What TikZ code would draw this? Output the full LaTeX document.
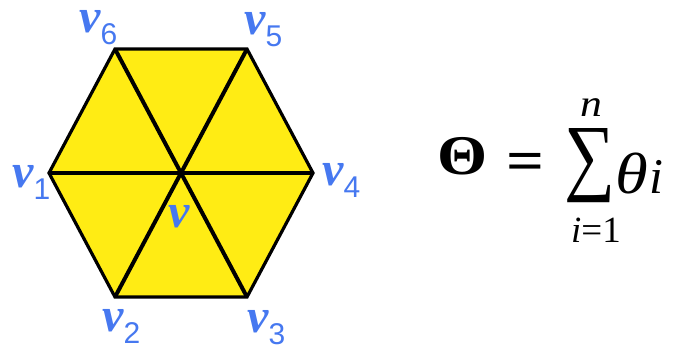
\documentclass[tikz,border=0pt]{standalone}
\usepackage{graphicx}
\usepackage{fontspec}
\setmainfont{Liberation Serif}
\newfontfamily\subfont{Liberation Sans}
\definecolor{vblue}{RGB}{70,120,240}
\definecolor{hexyellow}{RGB}{255,236,20}
\newcommand{\vlab}[1]{v\raisebox{-12pt}{\subfont\mdseries\upshape\fontsize{30}{30}\selectfont #1}}
\newcommand{\wide}[1]{\scalebox{1.15}[1]{#1}}

\begin{document}
\begin{tikzpicture}[
        x=1pt, y=-1pt,
        vlabel/.style={anchor=base west, inner sep=0pt, text=vblue,
          font=\fontsize{48}{48}\selectfont\bfseries\itshape},
        rim/.style={line width=3.2pt, line join=miter},
        spoke/.style={line width=4pt},
        formula/.style={inner sep=0pt, font=\fontsize{58}{58}\selectfont}
      ]
      \useasboundingbox (0,0) rectangle (679,345);

      % corners of the hexagon
      \coordinate (v1) at (49,173);
      \coordinate (v2) at (115,297);
      \coordinate (v3) at (247,297);
      \coordinate (v4) at (313,173);
      \coordinate (v5) at (247,49);
      \coordinate (v6) at (115,49);
      \coordinate (v) at (181,173);

      \fill[hexyellow] (v1) -- (v2) -- (v3) -- (v4) -- (v5) -- (v6) -- cycle;
      \foreach \a/\b in {v1/v4, v2/v5, v3/v6}
        \draw[spoke] (\a) -- (\b);
      \draw[rim] (v1) -- (v2) -- (v3) -- (v4) -- (v5) -- (v6) -- cycle;

      % vertex labels
      \node[vlabel] (l1) at (12,187) {\vlab{1}};
      \node[vlabel] (l2) at (102,331) {\vlab{2}};
      \node[vlabel] (l3) at (247,332) {\vlab{3}};
      \node[vlabel] (l4) at (322,185) {\vlab{4}};
      \node[vlabel] (l5) at (244,35) {\vlab{5}};
      \node[vlabel] (l6) at (79,33) {\vlab{6}};
      \node[vlabel] (lv) at (168,227) {v};

      % formula
      \node[formula, font=\fontsize{56}{56}\selectfont\bfseries]
        (Theta) at (463,156) {\wide{Θ}};
      \node[formula, font=\fontsize{58}{58}\selectfont\bfseries]
        (eq) at (525,167) {\wide{=}};
      \node[formula] (sum) at (590,166) {\resizebox{51pt}{56pt}{∑}};
      \node[formula, font=\fontsize{38}{38}\selectfont\itshape]
        (upper) at (591,108) {\wide{n}};
      \node[formula, font=\fontsize{37}{37}\selectfont]
        (lower) at (596,230) {\textit{i}=1};
      \node[formula, anchor=base west, font=\fontsize{58}{58}\selectfont\itshape]
        (term) at (615,193) {\wide{θ}\kern2pt{\fontsize{50}{50}\selectfont i}};
\end{tikzpicture}
\end{document}
